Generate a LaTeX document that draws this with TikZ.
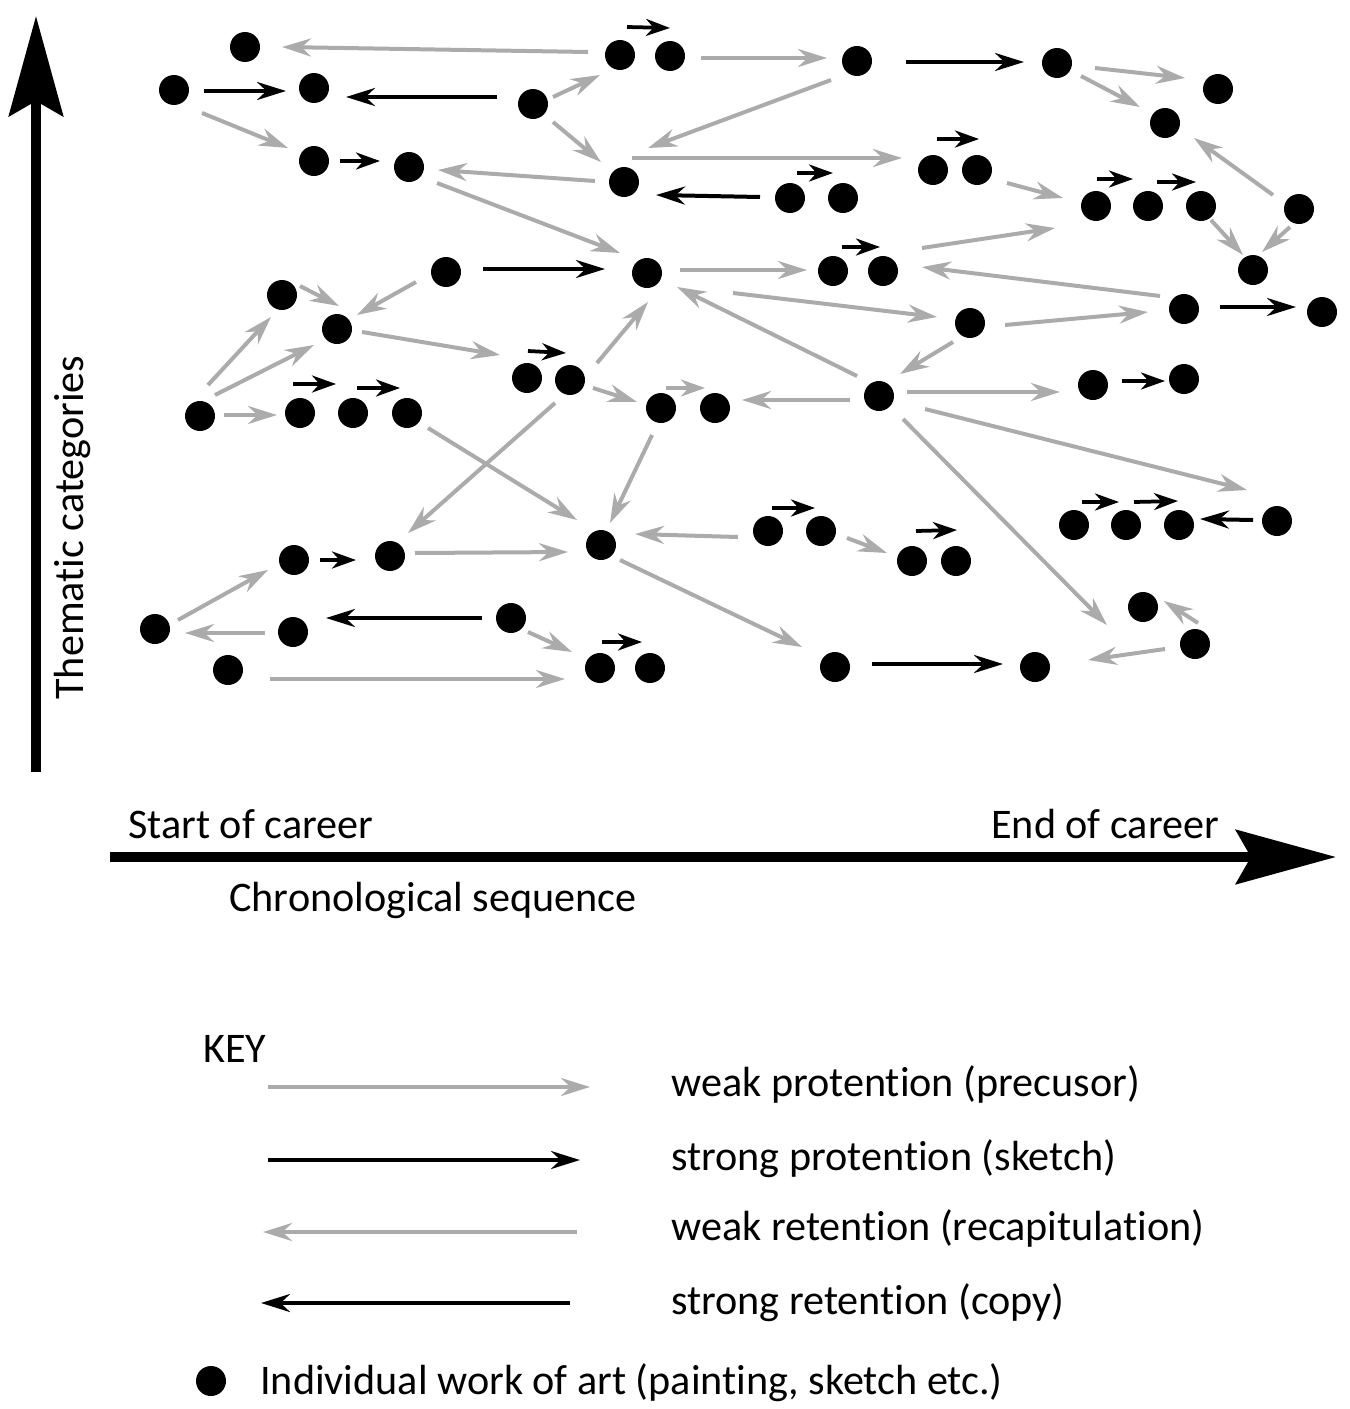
\documentclass[tikz,border=0pt]{standalone}
\usepackage{fontspec}
\setmainfont{Carlito}[Ligatures=NoCommon]
\usetikzlibrary{arrows.meta}

\begin{document}
\begin{tikzpicture}[x=0.2mm,y=-0.2mm,
    work/.style={circle,fill=black,inner sep=0pt,minimum size=6mm},
    wk/.style={-{Stealth[length=5.8mm,width=3.6mm,inset=1.9mm]},draw=black!33,line width=0.8mm},
    sk/.style={-{Stealth[length=5.8mm,width=3.6mm,inset=1.9mm]},draw=black,line width=0.8mm},
    pk/.style={-{Stealth[length=4.8mm,width=3.4mm,inset=1.5mm]},line width=0.75mm},
    axis/.style={-{Stealth[length=20mm,width=10.8mm,inset=3mm]},line width=1.9mm},
    lbl/.style={anchor=base west,inner sep=0pt,font=\fontsize{24}{28}\selectfont},
  ]
  \useasboundingbox (0,0) rectangle (1350,1409);

  % works of art
  \node[work] (a1) at (245,47) {};   \node[work] (a2) at (174,90) {};
  \node[work] (a3) at (314,88) {};   \node[work] (a4) at (533,104) {};
  \node[work] (a5) at (620,55) {};   \node[work] (a6) at (670,56) {};
  \node[work] (a7) at (857,61) {};   \node[work] (a8) at (1057,63) {};
  \node[work] (a9) at (1218,89) {};  \node[work] (a10) at (1165,123) {};
  \node[work] (b1) at (314,161) {};  \node[work] (b2) at (409,167) {};
  \node[work] (b3) at (624,182) {};  \node[work] (b4) at (790,198) {};
  \node[work] (b5) at (843,198) {};  \node[work] (b6) at (933,170) {};
  \node[work] (b7) at (977,170) {};  \node[work] (b8) at (1096,206) {};
  \node[work] (b9) at (1148,206) {}; \node[work] (b10) at (1201,206) {};
  \node[work] (b11) at (1299,209) {};\node[work] (b12) at (1253,270) {};
  \node[work] (c1) at (446,272) {};  \node[work] (c2) at (647,273) {};
  \node[work] (c3) at (833,271) {};  \node[work] (c4) at (883,271) {};
  \node[work] (c5) at (282,295) {};  \node[work] (c6) at (337,329) {};
  \node[work] (c7) at (970,323) {};  \node[work] (c8) at (1184,309) {};
  \node[work] (c9) at (1322,312) {};
  \node[work] (d1) at (527,378) {};  \node[work] (d2) at (570,380) {};
  \node[work] (d3) at (200,416) {};  \node[work] (d4) at (300,413) {};
  \node[work] (d5) at (353,413) {};  \node[work] (d6) at (407,413) {};
  \node[work] (d7) at (661,408) {};  \node[work] (d8) at (715,408) {};
  \node[work] (d9) at (879,396) {};  \node[work] (d10) at (1093,385) {};
  \node[work] (d11) at (1184,379) {};
  \node[work] (e1) at (768,531) {};  \node[work] (e2) at (821,531) {};
  \node[work] (e3) at (912,561) {};  \node[work] (e4) at (956,561) {};
  \node[work] (e5) at (1074,525) {}; \node[work] (e6) at (1126,525) {};
  \node[work] (e7) at (1179,525) {}; \node[work] (e8) at (1277,521) {};
  \node[work] (f1) at (601,545) {};  \node[work] (f2) at (294,560) {};
  \node[work] (f3) at (390,556) {};  \node[work] (f4) at (155,629) {};
  \node[work] (f5) at (293,632) {};  \node[work] (f6) at (511,618) {};
  \node[work] (f7) at (228,670) {};  \node[work] (f8) at (600,668) {};
  \node[work] (f9) at (650,668) {};  \node[work] (f10) at (835,667) {};
  \node[work] (f11) at (1035,667) {};\node[work] (f12) at (1143,607) {};
  \node[work] (f13) at (1195,644) {};

  % weak links
  \draw[wk] ([shift={(-32,-3)}]a5.center) -- ([shift={(37,0)}]a1.center);
  \draw[wk] ([shift={(28,23)}]a2.center) -- ([shift={(-26,-13)}]b1.center);
  \draw[wk] ([shift={(20,-7)}]a4.center) -- ([shift={(-20,20)}]a5.center);
  \draw[wk] ([shift={(20,18)}]a4.center) -- ([shift={(-23,-20)}]b3.center);
  \draw[wk] ([shift={(31,2)}]a6.center) -- ([shift={(-30,-3)}]a7.center);
  \draw[wk] ([shift={(-26,19)}]a7.center) -- ([shift={(24,-34)}]b3.center);
  \draw[wk] ([shift={(38,5)}]a8.center) -- ([shift={(-33,-11)}]a9.center);
  \draw[wk] ([shift={(24,13)}]a8.center) -- ([shift={(-25,-16)}]a10.center);
  \draw[wk] ([shift={(8,-24)}]b3.center) -- ([shift={(-31,-12)}]b6.center);
  \draw[wk] ([shift={(-29,-1)}]b3.center) -- ([shift={(29,3)}]b2.center);
  \draw[wk] ([shift={(28,16)}]b2.center) -- ([shift={(-27,-20)}]c2.center);
  \draw[wk] ([shift={(30,13)}]b7.center) -- ([shift={(-33,-8)}]b8.center);
  \draw[wk] ([shift={(10,14)}]b10.center) -- ([shift={(-10,-15)}]b12.center);
  \draw[wk] ([shift={(-9,18)}]b11.center) -- ([shift={(9,-18)}]b12.center);
  \draw[wk] ([shift={(-26,-14)}]b11.center) -- ([shift={(29,15)}]a10.center);
  \draw[wk] ([shift={(-30,10)}]c1.center) -- ([shift={(20,-14)}]c6.center);
  \draw[wk] ([shift={(18,-9)}]c5.center) -- ([shift={(2,-23)}]c6.center);
  \draw[wk] ([shift={(8,-31)}]d3.center) -- ([shift={(-11,22)}]c5.center);
  \draw[wk] ([shift={(15,-21)}]d3.center) -- ([shift={(-23,16)}]c6.center);
  \draw[wk] ([shift={(24,-1)}]d3.center) -- ([shift={(-23,2)}]d4.center);
  \draw[wk] ([shift={(25,3)}]c6.center) -- ([shift={(-27,-23)}]d1.center);
  \draw[wk] ([shift={(33,-3)}]c2.center) -- ([shift={(-26,-1)}]c3.center);
  \draw[wk] ([shift={(-22,-20)}]d9.center) -- ([shift={(30,14)}]c2.center);
  \draw[wk] ([shift={(86,20)}]c2.center) -- ([shift={(-33,-6)}]c7.center);
  \draw[wk] ([shift={(39,-23)}]c4.center) -- ([shift={(-41,22)}]b8.center);
  \draw[wk] ([shift={(-24,-13)}]c8.center) -- ([shift={(39,-4)}]c4.center);
  \draw[wk] ([shift={(35,2)}]c7.center) -- ([shift={(-36,3)}]c8.center);
  \draw[wk] ([shift={(-17,19)}]c7.center) -- ([shift={(21,-22)}]d9.center);
  \draw[wk] ([shift={(-29,4)}]d9.center) -- ([shift={(27,-8)}]d8.center);
  \draw[wk] ([shift={(28,-4)}]d9.center) -- ([shift={(-33,7)}]d10.center);
  \draw[wk] ([shift={(46,13)}]d9.center) -- ([shift={(-30,-31)}]e8.center);
  \draw[wk] ([shift={(24,23)}]d9.center) -- ([shift={(-36,18)}]f12.center);
  \draw[wk] ([shift={(-30,5)}]f13.center) -- ([shift={(53,-7)}]f11.center);
  \draw[wk] ([shift={(3,-21)}]f13.center) -- ([shift={(21,-6)}]f12.center);
  \draw[wk] ([shift={(21,15)}]d6.center) -- ([shift={(-24,-25)}]f1.center);
  \draw[wk] ([shift={(-15,23)}]d2.center) -- ([shift={(18,-23)}]f3.center);
  \draw[wk] ([shift={(27,-17)}]d2.center) -- ([shift={(1,29)}]c2.center);
  \draw[wk] ([shift={(23,8)}]d2.center) -- ([shift={(-24,-6)}]d7.center);
  \draw[wk] ([shift={(-9,27)}]d7.center) -- ([shift={(9,-22)}]f1.center);
  \draw[wk] ([shift={(25,-3)}]f3.center) -- ([shift={(-33,7)}]f1.center);
  \draw[wk] ([shift={(-30,6)}]e1.center) -- ([shift={(34,-11)}]f1.center);
  \draw[wk] ([shift={(26,7)}]e2.center) -- ([shift={(-25,-8)}]e3.center);
  \draw[wk] ([shift={(19,15)}]f1.center) -- ([shift={(-33,-20)}]f10.center);
  \draw[wk] ([shift={(23,-9)}]f4.center) -- ([shift={(-26,10)}]f2.center);
  \draw[wk] ([shift={(-28,1)}]f5.center) -- ([shift={(30,4)}]f4.center);
  \draw[wk] ([shift={(17,14)}]f6.center) -- ([shift={(-28,-16)}]f8.center);
  \draw[wk] ([shift={(42,9)}]f7.center) -- ([shift={(-35,11)}]f8.center);

  % strong links
  \draw[sk] ([shift={(30,1)}]a2.center) -- ([shift={(-28,3)}]a3.center);
  \draw[sk] ([shift={(-36,-7)}]a4.center) -- ([shift={(32,9)}]a3.center);
  \draw[sk] ([shift={(49,1)}]a7.center) -- ([shift={(-33,-1)}]a8.center);
  \draw[sk] ([shift={(-30,-1)}]b4.center) -- ([shift={(32,13)}]b3.center);
  \draw[sk] ([shift={(37,-3)}]c1.center) -- ([shift={(-42,-4)}]c2.center);
  \draw[sk] ([shift={(36,-2)}]c8.center) -- ([shift={(-26,-5)}]c9.center);
  \draw[sk] ([shift={(-29,0)}]f6.center) -- ([shift={(33,-14)}]f5.center);
  \draw[sk] ([shift={(37,-3)}]f10.center) -- ([shift={(-32,-3)}]f11.center);
  \draw[sk] ([shift={(-24,-1)}]e8.center) -- ([shift={(21,-6)}]e7.center);
  \draw[pk] ([shift={(26,0)}]b1.center) -- ([shift={(-29,-6)}]b2.center);
  \draw[pk] ([shift={(26,0)}]f2.center) -- ([shift={(-34,4)}]f3.center);
  \draw[pk] ([shift={(29,-4)}]d10.center) -- ([shift={(-19,2)}]d11.center);

  % links raised over neighbouring works
  \draw[pk] ([shift={(7,-28)}]a5.center) -- ([shift={(0,-28)}]a6.center);
  \draw[pk] ([shift={(7,-25)}]b4.center) -- ([shift={(-10,-25)}]b5.center);
  \draw[pk] ([shift={(4,-31)}]b6.center) -- ([shift={(2,-31)}]b7.center);
  \draw[pk] ([shift={(1,-27)}]b8.center) -- ([shift={(-15,-27)}]b9.center);
  \draw[pk] ([shift={(9,-24)}]b9.center) -- ([shift={(-5,-24)}]b10.center);
  \draw[pk] ([shift={(9,-24)}]c3.center) -- ([shift={(-3,-24)}]c4.center);
  \draw[pk] ([shift={(1,-27)}]d1.center) -- ([shift={(-4,-27)}]d2.center);
  \draw[pk] ([shift={(-7,-29)}]d4.center) -- ([shift={(-17,-29)}]d5.center);
  \draw[pk] ([shift={(4,-25)}]d5.center) -- ([shift={(-7,-25)}]d6.center);
  \draw[pk,draw=black!33] ([shift={(5,-20)}]d7.center) -- ([shift={(-10,-20)}]d8.center);
  \draw[pk] ([shift={(4,-23)}]e1.center) -- ([shift={(-6,-23)}]e2.center);
  \draw[pk] ([shift={(4,-30)}]e3.center) -- ([shift={(1,-31)}]e4.center);
  \draw[pk] ([shift={(8,-23)}]e5.center) -- ([shift={(-7,-23)}]e6.center);
  \draw[pk] ([shift={(8,-23)}]e6.center) -- ([shift={(-1,-24)}]e7.center);
  \draw[pk] ([shift={(2,-26)}]f8.center) -- ([shift={(-8,-26)}]f9.center);

  % axes
  \coordinate (yo) at (36,772); \coordinate (yt) at (36,16);
  \coordinate (xo) at (110,857); \coordinate (xt) at (1336,857);
  \draw[axis] (yo) -- (yt);
  \draw[axis] (xo) -- (xt);
  \node[lbl,rotate=90] (thm) at (83,700) {Thematic categories};
  \node[lbl] (st) at (128,838) {Start of career};
  \node[lbl] (en) at (991,838) {End of career};
  \node[lbl] (chr) at (229,911) {Chronological sequence};

  % key
  \node[lbl] (key) at (203,1062) {KEY};
  \coordinate (k1a) at (268,1087); \coordinate (k1b) at (590,1087);
  \coordinate (k2a) at (268,1160); \coordinate (k2b) at (580,1160);
  \coordinate (k3a) at (577,1232); \coordinate (k3b) at (263,1232);
  \coordinate (k4a) at (570,1303); \coordinate (k4b) at (261,1303);
  \draw[wk] (k1a) -- (k1b);
  \draw[sk] (k2a) -- (k2b);
  \draw[wk] (k3a) -- (k3b);
  \draw[sk] (k4a) -- (k4b);
  \node[lbl] (l1) at (671,1096) {weak protention (precusor)};
  \node[lbl] (l2) at (671,1170) {strong protention (sketch)};
  \node[lbl] (l3) at (671,1240) {weak retention (recapitulation)};
  \node[lbl] (l4) at (671,1314) {strong retention (copy)};
  \node[work] (kw) at (211,1381) {};
  \node[lbl] (l5) at (260,1394) {Individual work of art (painting, sketch etc.)};
\end{tikzpicture}
\end{document}
